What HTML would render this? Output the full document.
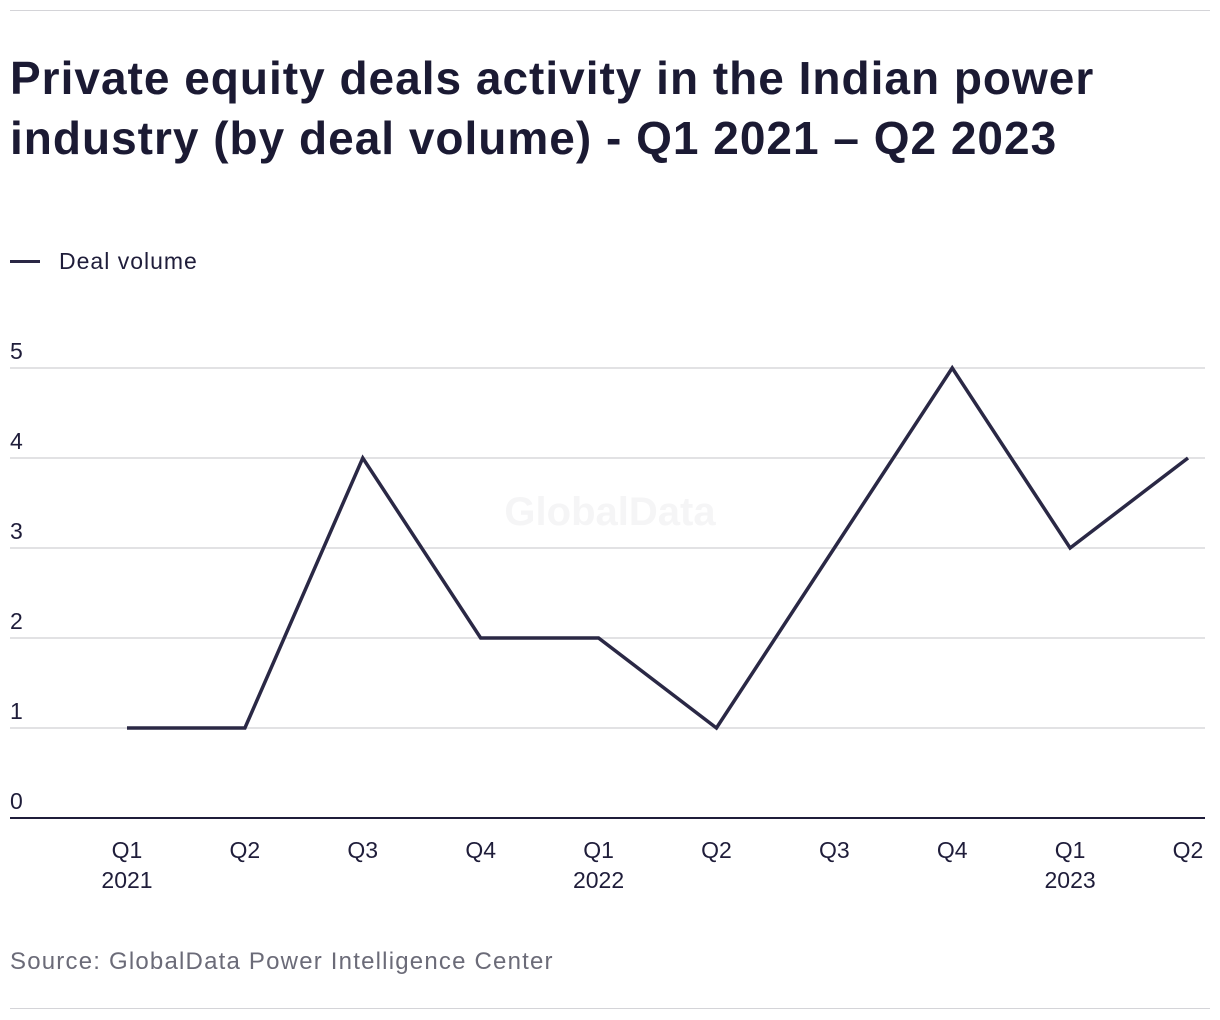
<!DOCTYPE html>
<html><head><meta charset="utf-8">
<style>
html,body{margin:0;padding:0;background:#fff;}
body{width:1220px;height:1020px;position:relative;overflow:hidden;font-family:"Liberation Sans",sans-serif;color:#1f1d3a;}
.rule{position:absolute;left:10px;width:1200px;height:1px;background:#d4d4d8;}
h1{position:absolute;left:10px;top:48px;margin:0;font-size:46px;line-height:60px;font-weight:bold;color:#1b1a33;letter-spacing:1.0px;white-space:nowrap;}
.legend{position:absolute;left:10px;top:248px;font-size:23px;display:flex;align-items:center;letter-spacing:1px;}
.legend span.sw{display:inline-block;width:30px;height:3px;background:#2a2845;margin-right:19px;}
.src{position:absolute;left:10px;top:948px;font-size:24px;color:#6b6b78;letter-spacing:1.2px;white-space:nowrap;}
</style></head><body>
<div class="rule" style="top:10px"></div>
<h1>Private equity deals activity in the Indian power<br>industry (by deal volume) - Q1 2021 – Q2 2023</h1>
<div class="legend"><span class="sw"></span><span>Deal volume</span></div>
<svg id="chart" width="1220" height="1020" style="position:absolute;left:0;top:0"></svg>
<div class="src">Source: GlobalData Power Intelligence Center</div>
<div class="rule" style="top:1008px"></div>
<script>
const categories=["Q1","Q2","Q3","Q4","Q1","Q2","Q3","Q4","Q1","Q2"];
const years=["2021","","","","2022","","","","2023",""];
const dealVolume=[1,1,4,2,2,1,3,5,3,4];
const yTicks=[0,1,2,3,4,5];
const svg=document.getElementById('chart');
const NS='http://www.w3.org/2000/svg';
const x0=127,x1=1188,yBase=818,yTop=368,yMax=5;
const xs=i=>x0+(x1-x0)*i/(categories.length-1);
const ys=v=>yBase-(yBase-yTop)*v/yMax;
function mk(t,a){const e=document.createElementNS(NS,t);for(const k in a)e.setAttribute(k,a[k]);svg.appendChild(e);return e;}
const wm=mk('text',{x:610,y:525,'text-anchor':'middle','font-size':40,'font-weight':'bold',fill:'#f5f5f6','font-family':'Liberation Sans, sans-serif'});
wm.textContent='GlobalData';


yTicks.forEach(v=>{
  const l=mk('line',{x1:10,x2:1205,y1:ys(v),y2:ys(v),stroke:v===0?'#1f1d3a':'#d8d8dc','stroke-width':v===0?2:1.5});
  
  
  const t=mk('text',{x:10,y:ys(v)-9,'font-size':23,fill:'#1f1d3a','font-family':'Liberation Sans, sans-serif'});
  t.textContent=v;
  
  
});
categories.forEach((c,i)=>{
  const t=mk('text',{x:xs(i),y:858,'text-anchor':'middle','font-size':23,fill:'#1f1d3a','font-family':'Liberation Sans, sans-serif'});
  t.textContent=c;
  
  
  if(years[i]){
    const y=mk('text',{x:xs(i),y:888,'text-anchor':'middle','font-size':23,fill:'#1f1d3a','font-family':'Liberation Sans, sans-serif'});
    y.textContent=years[i];
    
    
  }
});
const pts=dealVolume.map((v,i)=>xs(i)+','+ys(v)).join(' ');
const line=mk('polyline',{points:pts,fill:'none',stroke:'#2a2845','stroke-width':3.5,'stroke-linejoin':'miter'});


</script>
</body></html>
